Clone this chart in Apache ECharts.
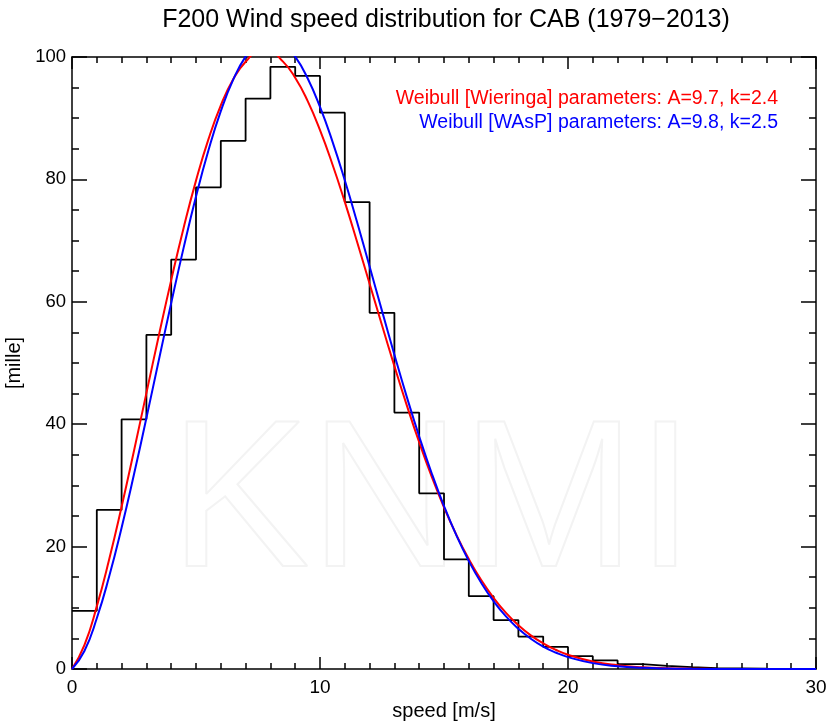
<!DOCTYPE html>
<html>
<head>
<meta charset="utf-8">
<script src="https://cdn.jsdelivr.net/npm/echarts@6/dist/echarts.min.js"></script>
<style>html,body{margin:0;padding:0;background:#fff}#c{width:830px;height:724px}</style>
</head>
<body>
<div id="c"></div>
<script>
// ---- data ----
const binStart = [0,1,2,3,4,5,6,7,8,9,10,11,12,13,14,15,16,17,18,19,20,21,22,23,24,25,26,27,28,29];
const binWidth = 1;
const histValues = [9.5,26.0,40.8,54.6,66.9,78.7,86.3,93.2,98.4,96.9,90.9,76.3,58.2,41.9,28.7,17.9,11.9,8.0,5.3,3.6,2.1,1.4,0.8,0.5,0.3,0.15,0.1,0.05,0.03,0.02];

const curveSpeed = [0,0.5,1,1.5,2,2.5,3,3.5,4,4.5,5,5.5,6,6.5,7,7.5,8,8.5,9,9.5,10,10.5,11,11.5,12,12.5,13,13.5,14,14.5,15,15.5,16,16.5,17,17.5,18,18.5,19,19.5,20,21,22,23,24,25,26,27,28,29,30];
const wieringaValues = [0,3.89,10.23,17.93,26.52,35.67,45.08,54.46,63.54,72.07,79.80,86.53,92.09,96.36,99.22,100.64,100.66,99.28,96.62,92.82,88.05,82.48,76.32,69.74,62.96,56.17,49.49,43.08,37.05,31.48,26.42,21.92,17.96,14.53,11.62,9.17,7.15,5.50,4.19,3.14,2.33,1.23,0.62,0.29,0.13,0.06,0.02,0.01,0,0,0];
const waspValues = [0,2.94,8.29,15.14,23.09,31.81,41.02,50.45,59.80,68.81,77.20,84.71,91.15,96.30,100.06,102.32,103.05,102.27,100.05,96.53,91.85,86.22,79.85,72.95,65.77,58.52,51.36,44.47,38.00,32.02,26.63,21.83,17.65,14.08,11.08,8.59,6.57,4.95,3.67,2.69,1.94,0.96,0.45,0.20,0.08,0.03,0.01,0,0,0,0];

const xTicks = [0,10,20,30];
const yTicks = [0,20,40,60,80,100];
const titleText = 'F200 Wind speed distribution for CAB (1979\u22122013)';
const xName = 'speed [m/s]';
const yName = '[mille]';
const redLabel = 'Weibull [Wieringa] parameters: A=9.7, k=2.4';
const blueLabel = 'Weibull [WAsP] parameters: A=9.8, k=2.5';

// ---- build series data ----
const histData = binStart.map((x, i) => [x, histValues[i]]);
histData.push([binStart[binStart.length - 1] + binWidth, histValues[histValues.length - 1]]);
const redData = curveSpeed.map((x, i) => [x, wieringaValues[i]]);
const blueData = curveSpeed.map((x, i) => [x, waspValues[i]]);

const FONT = "'Liberation Sans', Arial, Helvetica, sans-serif";
const axisLine = { show: true, onZero: false, lineStyle: { color: '#000', width: 1.5 } };

const chart = echarts.init(document.getElementById('c'), null, { renderer: 'canvas' });
chart.setOption({
  animation: false,
  backgroundColor: '#fff',
  title: {
    text: titleText, left: 441, top: 3, textAlign: 'center',
    textStyle: { fontFamily: FONT, fontWeight: 'normal', fontSize: 25, color: '#000' }
  },
  grid: { left: 72, right: 14, top: 57, bottom: 55, containLabel: false, outerBoundsMode: 'none' },
  xAxis: [
    {
      type: 'value', min: xTicks[0], max: xTicks[xTicks.length - 1], interval: 10, position: 'bottom',
      name: xName, nameLocation: 'middle', nameGap: 27,
      nameTextStyle: { fontFamily: FONT, fontSize: 20, color: '#000' },
      axisLine,
      axisTick: { show: true, inside: true, length: 12, lineStyle: { color: '#000', width: 1.5 } },
      minorTick: { show: true, splitNumber: 10, length: 6, lineStyle: { color: '#000', width: 1.5 } },
      splitLine: { show: false },
      axisLabel: { margin: 9, fontFamily: FONT, fontSize: 19, color: '#000' }
    },
    {
      type: 'value', min: xTicks[0], max: xTicks[xTicks.length - 1], interval: 10, position: 'top',
      axisLine,
      axisTick: { show: true, inside: true, length: 12, lineStyle: { color: '#000', width: 1.5 } },
      minorTick: { show: true, splitNumber: 10, length: 6, lineStyle: { color: '#000', width: 1.5 } },
      splitLine: { show: false },
      axisLabel: { show: false }
    }
  ],
  yAxis: [
    {
      type: 'value', min: yTicks[0], max: yTicks[yTicks.length - 1], interval: 20, position: 'left',
      name: yName, nameLocation: 'middle', nameGap: 48, nameRotate: 90,
      nameTextStyle: { fontFamily: FONT, fontSize: 20, color: '#000' },
      axisLine,
      axisTick: { show: true, inside: true, length: 15, lineStyle: { color: '#000', width: 1.5 } },
      minorTick: { show: true, splitNumber: 4, length: 7, lineStyle: { color: '#000', width: 1.5 } },
      splitLine: { show: false },
      axisLabel: { margin: 6, fontFamily: FONT, fontSize: 18.5, color: '#000' }
    },
    {
      type: 'value', min: yTicks[0], max: yTicks[yTicks.length - 1], interval: 20, position: 'right',
      axisLine,
      axisTick: { show: true, inside: true, length: 15, lineStyle: { color: '#000', width: 1.5 } },
      minorTick: { show: true, splitNumber: 4, length: 7, lineStyle: { color: '#000', width: 1.5 } },
      splitLine: { show: false },
      axisLabel: { show: false }
    }
  ],
  graphic: [
    {
      type: 'text', z: 0, silent: true,
      style: { text: 'KNMI', x: 432, y: 508, textAlign: 'center', textVerticalAlign: 'middle',
        font: "210px " + FONT, fill: 'none', stroke: '#f3f3f3', lineWidth: 2 }
    },
    {
      type: 'text', z: 10,
      style: { text: redLabel, x: 778, y: 99, textAlign: 'right', textVerticalAlign: 'middle',
        font: "19.5px " + FONT, fill: '#ff0000' }
    },
    {
      type: 'text', z: 10,
      style: { text: blueLabel, x: 778, y: 123, textAlign: 'right', textVerticalAlign: 'middle',
        font: "19.5px " + FONT, fill: '#0000ff' }
    }
  ],
  series: [
    {
      type: 'line', name: 'histogram', data: histData, step: 'end', showSymbol: false, symbol: 'none',
      lineStyle: { color: '#000', width: 1.8 }, z: 2
    },
    {
      type: 'line', name: 'Wieringa', data: redData, smooth: true, showSymbol: false, symbol: 'none',
      lineStyle: { color: '#ff0000', width: 2 }, z: 3
    },
    {
      type: 'line', name: 'WAsP', data: blueData, smooth: true, showSymbol: false, symbol: 'none',
      lineStyle: { color: '#0000ff', width: 2 }, z: 4
    }
  ]
});
</script>
</body>
</html>
